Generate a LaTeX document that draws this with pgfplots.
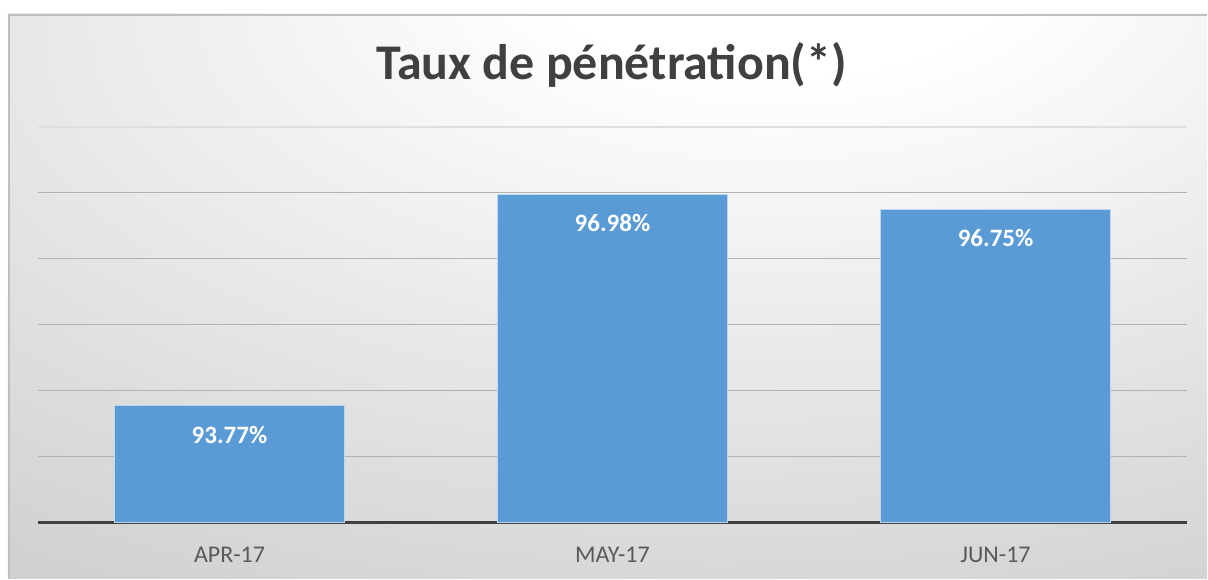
\documentclass[border=0pt]{standalone}
\usepackage{pgfplots}
\pgfplotsset{compat=1.18}
\usepackage{fontspec}
\setmainfont{Carlito}
\definecolor{barblue}{HTML}{5B9BD5}
\definecolor{txtgray}{HTML}{404040}
\definecolor{lblgray}{HTML}{595959}
\pgfdeclareradialshading{bgshade}{\pgfpoint{8bp}{33bp}}{color(0bp)=(white); color(10bp)=(white); color(62bp)=(gray!48); color(100bp)=(gray!50)}
\begin{document}
\begin{tikzpicture}[x=1pt,y=1pt]
\path[fill=white] (0,0) rectangle (604,289.5);
\shade[shading=bgshade] (4,0) rectangle (604,282.5);
\draw[gray!50,line width=1pt] (4.5,0) -- (4.5,282) -- (604,282);
\node[font=\fontsize{25}{28}\selectfont\bfseries, text=txtgray, anchor=base] at (306,249.5) {Taux de pénétration(*)};
\begin{axis}[
  at={(19pt,28pt)}, anchor=south west,
  scale only axis, width=575pt, height=198pt,
  ybar, bar width=0.6,
  xmin=-0.5, xmax=2.5, ymin=92, ymax=98,
  xtick=data, xticklabels={APR-17,MAY-17,JUN-17},
  ytick={93,94,95,96,97}, yticklabels={},
  extra y ticks={98}, extra y tick labels={},
  extra y tick style={grid style={gray!25, line width=0.7pt}},
  ymajorgrids, grid style={gray!60, line width=0.6pt},
  axis x line*=bottom, axis y line*=left,
  y axis line style={draw=none},
  x axis line style={txtgray, line width=1.5pt, -},
  major tick length=0pt,
  xticklabel style={font=\fontsize{12}{14}\selectfont, text=lblgray, anchor=base, yshift=-20pt},
  nodes near coords={\pgfmathprintnumber[fixed,fixed zerofill,precision=2,assume math mode=true]{\pgfplotspointmeta}\%},
  every node near coord/.append style={font=\fontsize{12.5}{14}\selectfont\bfseries, text=white, anchor=north, yshift=-6.5pt},
  clip=false,
]
\addplot[fill=barblue, draw=barblue!40!white, line width=0.5pt] coordinates {(0,93.77) (1,96.98) (2,96.75)};
\end{axis}
\end{tikzpicture}
\end{document}
